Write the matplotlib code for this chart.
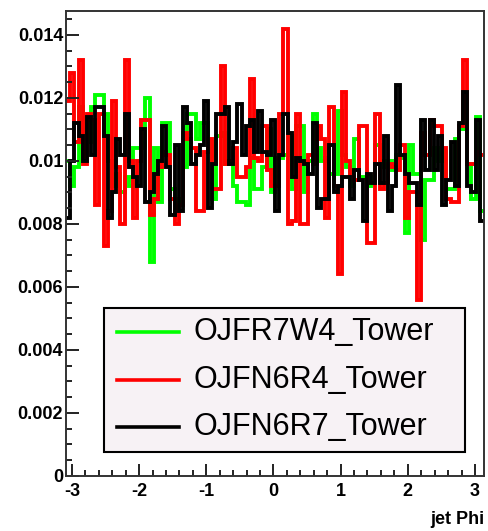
import numpy as np
import matplotlib
matplotlib.use('Agg')
import matplotlib.pyplot as plt
from matplotlib.patches import Rectangle
from matplotlib.ticker import MultipleLocator

plt.rcParams['font.family'] = ['Liberation Sans', 'DejaVu Sans']

# bin contents in units of 1e-4, 100 bins over jet Phi
green_vals = [100, 92, 98, 117, 104, 106, 117, 121, 121, 115,
              100, 92, 96, 90, 95, 92, 104, 104, 104, 120,
              68, 104, 87, 112, 112, 91, 86, 88, 98, 115,
              115, 107, 112, 112, 106, 88, 108, 109, 99, 99,
              92, 87, 87, 86, 101, 91, 91, 98, 110, 90,
              101, 101, 102, 108, 91, 111, 111, 90, 100, 115,
              104, 100, 101, 96, 96, 116, 102, 98, 92, 107,
              95, 95, 92, 95, 105, 100, 98, 100, 97, 102,
              101, 77, 105, 96, 96, 75, 94, 94, 104, 100,
              103, 91, 91, 107, 110, 110, 99, 88, 114, 84]
red_vals = [119, 128, 106, 132, 99, 115, 113, 86, 115, 73,
            84, 119, 98, 80, 132, 100, 82, 100, 113, 113,
            83, 88, 98, 103, 102, 88, 80, 86, 109, 107,
            104, 84, 84, 103, 107, 91, 91, 130, 99, 100,
            104, 95, 95, 98, 126, 101, 100, 111, 97, 92,
            92, 115, 142, 80, 81, 115, 80, 80, 102, 99,
            111, 107, 82, 117, 92, 64, 122, 100, 95, 94,
            111, 111, 74, 74, 115, 91, 93, 99, 98, 97,
            105, 82, 90, 90, 56, 109, 102, 113, 111, 111,
            104, 88, 87, 87, 111, 132, 99, 99, 103, 102]
black_vals = [82, 100, 112, 108, 100, 114, 102, 117, 117, 108,
              82, 90, 107, 102, 115, 98, 95, 92, 110, 87,
              90, 96, 100, 111, 98, 83, 105, 84, 117, 112,
              99, 102, 105, 119, 85, 99, 115, 115, 117, 99,
              106, 118, 102, 111, 113, 103, 116, 103, 102, 113,
              84, 102, 115, 109, 95, 101, 100, 99, 96, 112,
              85, 88, 88, 105, 90, 92, 95, 95, 88, 97,
              94, 81, 96, 93, 99, 93, 108, 84, 92, 124,
              102, 96, 93, 93, 86, 113, 97, 113, 97, 108,
              86, 94, 106, 92, 112, 122, 92, 90, 113, 81]

labels = ['OJFR7W4_Tower', 'OJFN6R4_Tower', 'OJFN6R7_Tower']
colors = ['#00ff00', '#ff0000', '#000000']
ytick_vals = [0, 0.002, 0.004, 0.006, 0.008, 0.010, 0.012, 0.014]
ytick_labels = ['0', '0.002', '0.004', '0.006', '0.008', '0.01', '0.012', '0.014']
xtick_vals = [-3, -2, -1, 0, 1, 2, 3]

xlo, xhi = -3.09, 3.135
edges = np.linspace(xlo, xhi, 101)

fig = plt.figure(figsize=(4.89, 5.31), dpi=100)
ax = fig.add_axes([66/489, 1 - 476/531, 418/489, 465/531])

for vals, c in zip([green_vals, red_vals, black_vals], colors):
    ax.stairs(np.array(vals) * 1e-4, edges, baseline=None, color=c, lw=2.8)

ax.set_xlim(xlo, xhi)
ax.set_ylim(0, 0.01476)

ax.set_yticks(ytick_vals)
ax.set_yticklabels(ytick_labels)
ax.set_xticks(xtick_vals)
ax.set_xticklabels([str(v) for v in xtick_vals])
ax.yaxis.set_minor_locator(MultipleLocator(0.0005))
ax.xaxis.set_minor_locator(MultipleLocator(0.2))
ax.tick_params(which='both', direction='in', width=1.4, colors='#222222',
               top=False, right=False)
ax.tick_params(which='major', length=9, labelsize=13)
ax.tick_params(which='minor', length=4.5)
ax.tick_params(axis='y', pad=2)
ax.tick_params(axis='x', pad=5)
for lab in ax.get_xticklabels() + ax.get_yticklabels():
    lab.set_fontweight('bold')
    lab.set_color('black')
for s in ax.spines.values():
    s.set_linewidth(1.4)
    s.set_color('#333333')

ax.text(1.0, -0.075, 'jet Phi', transform=ax.transAxes, ha='right', va='top',
        fontsize=13, fontweight='bold')

# legend box drawn by hand, ROOT style
box = Rectangle((0.0909, 0.0516), 0.8636, 0.3094, transform=ax.transAxes,
                facecolor='#f7f2f5', edgecolor='black', lw=1.5, zorder=5)
ax.add_patch(box)
rows = [0.3097, 0.2075, 0.1054]
for lab, c, yr in zip(labels, colors, rows):
    ax.plot([0.122, 0.270], [yr, yr], color=c, lw=2.6, transform=ax.transAxes,
            zorder=6, clip_on=False)
    ax.text(0.304, yr, lab, transform=ax.transAxes, fontsize=22,
            va='center', ha='left', zorder=6)

fig.savefig('out.png', dpi=100)
